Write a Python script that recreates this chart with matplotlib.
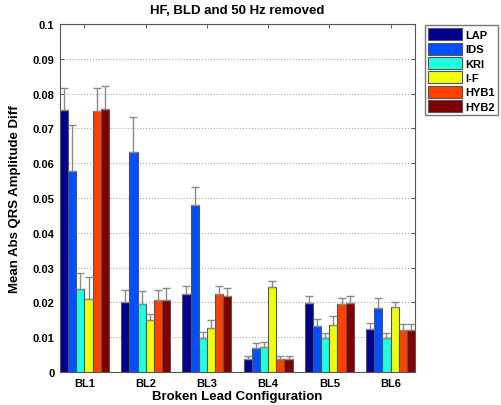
import numpy as np
import matplotlib.pyplot as plt

plt.rcParams['font.family'] = ['Liberation Sans', 'DejaVu Sans']

configs = ['BL1', 'BL2', 'BL3', 'BL4', 'BL5', 'BL6']
methods = ['LAP', 'IDS', 'KRI', 'I-F', 'HYB1', 'HYB2']

# mean values, one list per method (BL1..BL6)
lap = [0.0754, 0.0201, 0.0224, 0.0037, 0.0197, 0.0125]
ids = [0.0579, 0.0632, 0.0481, 0.0068, 0.0131, 0.0183]
kri = [0.0239, 0.0195, 0.0097, 0.0071, 0.0097, 0.0099]
i_f = [0.0211, 0.0149, 0.0126, 0.0245, 0.0134, 0.0186]
hyb1 = [0.0751, 0.0207, 0.0223, 0.0037, 0.0195, 0.0122]
hyb2 = [0.0757, 0.0207, 0.0217, 0.0037, 0.0198, 0.0122]

# top of the error bars
lap_top = [0.0816, 0.0237, 0.0248, 0.0045, 0.0219, 0.0140]
ids_top = [0.0711, 0.0733, 0.0531, 0.0083, 0.0152, 0.0212]
kri_top = [0.0284, 0.0234, 0.0116, 0.0086, 0.0112, 0.0112]
i_f_top = [0.0274, 0.0168, 0.0149, 0.0262, 0.0160, 0.0200]
hyb1_top = [0.0816, 0.0237, 0.0246, 0.0045, 0.0214, 0.0137]
hyb2_top = [0.0822, 0.0240, 0.0240, 0.0045, 0.0219, 0.0137]

means = [lap, ids, kri, i_f, hyb1, hyb2]
tops = [lap_top, ids_top, kri_top, i_f_top, hyb1_top, hyb2_top]
colors = ['#00008F', '#0050FF', '#20FFDF', '#EFFF10', '#FF4000', '#800000']

fig = plt.figure(figsize=(5.01, 4.06), dpi=100)
ax = fig.add_axes([60 / 501, 1 - 373 / 406, 355 / 501, 348 / 406])

x = np.arange(1, len(configs) + 1)
w = 0.8 / len(methods)
handles = []
for i, (m, t, c, name) in enumerate(zip(means, tops, colors, methods)):
    pos = x - 0.4 + w * (i + 0.5)
    m = np.array(m)
    err = np.array(t) - m
    b = ax.bar(pos, m, width=w, color=c, edgecolor='#555555', linewidth=0.8,
               zorder=3, label=name)
    ax.errorbar(pos, m, yerr=[np.zeros_like(err), err], fmt='none',
                ecolor='#8a8a8a', elinewidth=1, capsize=3, capthick=1, zorder=4)
    handles.append(b)

ax.set_xlim(0.6, 6.4)
ax.set_ylim(0, 0.1)
ax.set_xticks(x)
ax.set_xticklabels(configs, fontsize=8, fontweight='bold')
yt = np.arange(0, 0.101, 0.01)
ax.set_yticks(yt)
ax.set_yticklabels(['0'] + ['%g' % round(v, 2) for v in yt[1:]], fontsize=8,
                   fontweight='bold')
ax.tick_params(direction='in', top=True, right=True, length=3, width=0.6,
               color='#444444', pad=4)
for s in ax.spines.values():
    s.set_color('#555555')
    s.set_linewidth(0.8)
ax.grid(axis='y', linestyle=':', color='#aaaaaa', linewidth=0.8, zorder=0)

ax.set_title('HF, BLD and 50 Hz removed', fontsize=9.5, fontweight='bold', pad=8)
ax.set_xlabel('Broken Lead Configuration', fontsize=9.5, fontweight='bold', labelpad=2)
ax.set_ylabel('Mean Abs QRS Amplitude Diff', fontsize=9.5, fontweight='bold', labelpad=8)

leg = fig.legend(handles=handles, labels=methods, loc='upper left',
                 bbox_to_anchor=(425 / 501, 1 - 26 / 406), fontsize=8,
                 frameon=True, fancybox=False, edgecolor='#555555',
                 handlelength=3.0, handleheight=1.3, handletextpad=0.3,
                 labelspacing=0.2, borderpad=0.3, borderaxespad=0)
for t in leg.get_texts():
    t.set_fontweight('bold')

fig.savefig('out.png', dpi=100)
